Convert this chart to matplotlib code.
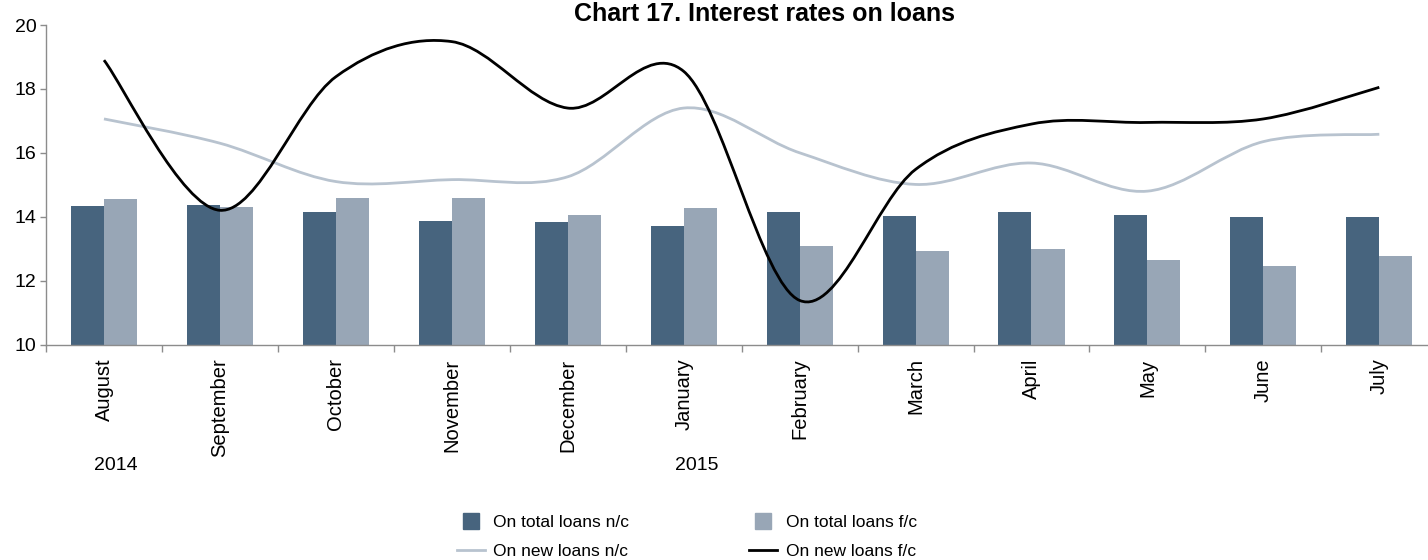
import matplotlib
matplotlib.use("Agg")
import matplotlib.pyplot as plt
import numpy as np
from matplotlib.path import Path
from matplotlib.patches import PathPatch
from matplotlib.lines import Line2D

plt.rcParams['font.family'] = ['Liberation Sans', 'DejaVu Sans']

# ---- data ----
months = ["August", "September", "October", "November", "December", "January",
          "February", "March", "April", "May", "June", "July"]
years = ["2014", "2015"]
total_nc = [14.34, 14.37, 14.15, 13.87, 13.83, 13.70, 14.15, 14.02, 14.15, 14.05, 13.99, 13.99]
total_fc = [14.55, 14.30, 14.59, 14.58, 14.05, 14.27, 13.08, 12.92, 12.98, 12.63, 12.46, 12.77]
new_nc = [17.06, 16.30, 15.10, 15.16, 15.25, 17.40, 16.00, 15.01, 15.68, 14.80, 16.35, 16.58]
new_fc = [18.90, 14.20, 18.38, 19.48, 17.40, 18.55, 11.38, 15.48, 16.90, 16.95, 17.06, 18.05]
yticks = [10, 12, 14, 16, 18, 20]

C_DARK = "#47647E"
C_LIGHT = "#98A6B6"
C_NEWNC = "#B8C3CF"
C_NEWFC = "#000000"
C_AXIS = "#8C8C8C"

fig = plt.figure(figsize=(14.28, 5.6), dpi=100)
ax = fig.add_axes([46/1428, 1-344.5/560, 1-46/1428, (344.5-25)/560])

x = np.arange(len(months))
w = 0.285
ax.bar(x - w/2, total_nc, w, color=C_DARK, zorder=2)
ax.bar(x + w/2, total_fc, w, color=C_LIGHT, zorder=2)


def smooth_path(xs, ys):
    pts = np.column_stack([xs, ys]).astype(float)
    n = len(pts)
    verts = [pts[0]]
    codes = [Path.MOVETO]
    for i in range(n - 1):
        p0 = pts[i - 1] if i > 0 else pts[i]
        p1 = pts[i]
        p2 = pts[i + 1]
        p3 = pts[i + 2] if i + 2 < n else pts[i + 1]
        c1 = p1 + (p2 - p0) / 6.0
        c2 = p2 - (p3 - p1) / 6.0
        verts += [c1, c2, p2]
        codes += [Path.CURVE4] * 3
    return Path(verts, codes)


ax.add_patch(PathPatch(smooth_path(x, new_nc), facecolor="none", edgecolor=C_NEWNC,
                       lw=2.0, zorder=3, capstyle="butt"))
ax.add_patch(PathPatch(smooth_path(x, new_fc), facecolor="none", edgecolor=C_NEWFC,
                       lw=2.0, zorder=4, capstyle="butt"))

ax.set_xlim(-0.5, 11.42)
ax.set_ylim(10, 20)
ax.set_yticks(yticks)
ax.set_yticklabels([str(v) for v in yticks], fontsize=14)
ax.tick_params(axis="y", length=4, width=1, color=C_AXIS, pad=3)

ax.set_xticks(x)
ax.set_xticklabels(months, rotation=90, fontsize=14.5, va="top", ha="center")
ax.tick_params(axis="x", which="major", length=0, pad=10)
ax.set_xticks(np.arange(-0.5, 11.5, 1.0), minor=True)
ax.tick_params(axis="x", which="minor", length=5, width=1, color=C_AXIS)

for s in ["top", "right"]:
    ax.spines[s].set_visible(False)
for s in ["left", "bottom"]:
    ax.spines[s].set_color(C_AXIS)
    ax.spines[s].set_linewidth(1)

fig.text(116/1428, 1-466/560, years[0], fontsize=14, ha="center", va="center")
fig.text(697/1428, 1-466/560, years[1], fontsize=14, ha="center", va="center")

fig.text(0.5 + 51/1428, 1-14/560, "Chart 17. Interest rates on loans", fontsize=18,
         fontweight="bold", ha="center", va="center")

handles = [
    Line2D([], [], ls="none", marker="s", markersize=11, color=C_DARK),
    Line2D([], [], color=C_NEWNC, lw=2.0),
    Line2D([], [], ls="none", marker="s", markersize=11, color=C_LIGHT),
    Line2D([], [], color=C_NEWFC, lw=2.0),
]
labels = ["On total loans n/c", "On new loans n/c", "On total loans f/c", "On new loans f/c"]
fig.legend(handles, labels, ncol=2, loc="upper left",
           bbox_to_anchor=(457/1428, 1-515/560), frameon=False, fontsize=12.5,
           borderpad=0, borderaxespad=0, handlelength=1.6, handletextpad=0.5,
           columnspacing=6.9, labelspacing=0.8)

fig.savefig("out.png", dpi=100, facecolor="white")
